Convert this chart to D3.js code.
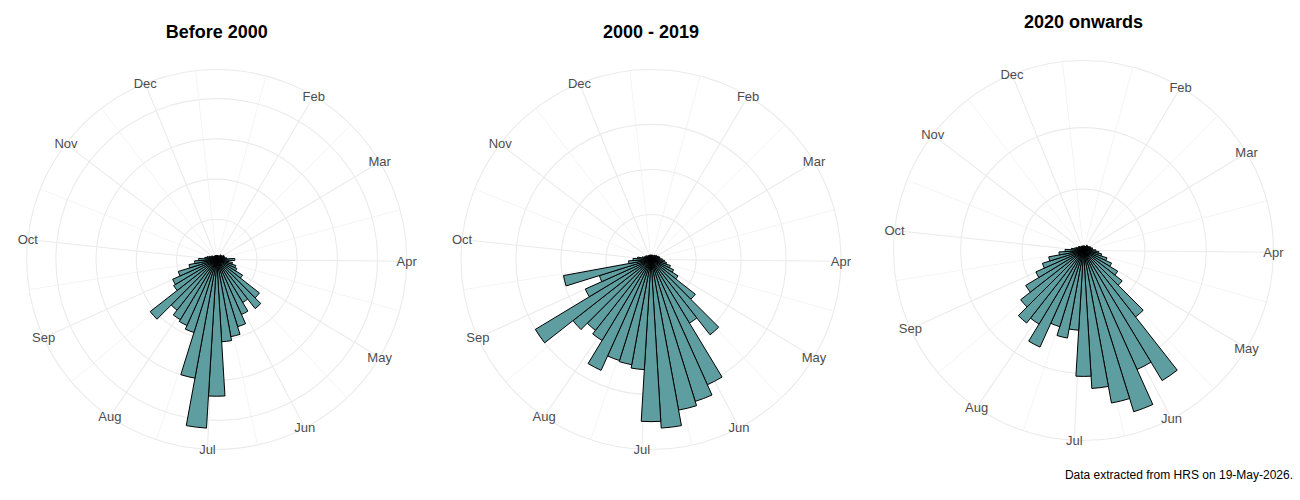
<!DOCTYPE html>
<html>
<head>
<meta charset="utf-8">
<script src="https://cdn.jsdelivr.net/npm/d3@7"></script>
<style>
  body { margin: 0; background: #fff; }
  text { font-family: "Liberation Sans", Arial, sans-serif; }
</style>
</head>
<body>
<svg id="chart" width="1300" height="500"></svg>
<script>
// week of year (52 weekly bins)
const weeks = d3.range(1, 53);

// counts per week
const before2000 = [1, 1, 1, 1, 1, 1, 1.5, 1.5, 1.5, 2, 2, 2, 2.5,
    4.5, 3, 4, 5, 5.5, 7.5, 13.5, 15.5, 12.5, 15, 17.5, 19.5, 20.5,
    34, 42, 30, 19, 18, 17.5, 16, 21, 12.5, 12, 10, 7, 5.5, 4.5, 3, 2.5,
    2, 1.5, 1.5, 1, 1, 1, 1, 1, 1, 1];
const from2000to2019 = [2, 2, 2, 2, 2, 2, 2.5, 2.5, 3, 3, 3.5, 4, 4,
    5, 6, 7, 9, 11, 14, 25, 42.5, 33, 61, 66, 68, 75,
    72, 49, 47.5, 47, 54, 42, 40, 44, 60, 32, 24, 39.5, 10, 8, 6, 4,
    3, 3, 2.5, 2.5, 2, 2, 2, 2, 2, 2];
const from2020 = [1.5, 1.5, 1.5, 1.5, 1.5, 2, 2, 2, 2, 2.5, 2.5, 3, 3,
    4, 5, 6, 8, 10, 13, 16, 27.5, 49.5, 42.5, 55, 50.5, 45,
    41, 26, 29, 26, 34.5, 28, 30, 26, 22, 17, 14, 11.5, 8, 6, 4, 3,
    2.5, 2, 2, 2, 1.5, 1.5, 1.5, 1.5, 1.5, 1.5];

// radial gridline values for each panel
const ringsBefore2000 = [10, 20, 30, 40];
const rings2000to2019 = [20, 40, 60];
const rings2020 = [20, 40];

// month axis: labels and the day of year each month starts
const monthLabels = ["Jan", "Feb", "Mar", "Apr", "May", "Jun", "Jul", "Aug", "Sep", "Oct", "Nov", "Dec"];
const monthStartDays = [1, 32, 60, 91, 121, 152, 182, 213, 244, 274, 305, 335];

const titles = ["Before 2000", "2000 - 2019", "2020 onwards"];
const caption = "Data extracted from HRS on 19-May-2026.";

// layout
const panels = [
    { title: titles[0], values: before2000, rings: ringsBefore2000, cx: 216.7, cy: 259.5, titleY: 38 },
    { title: titles[1], values: from2000to2019, rings: rings2000to2019, cx: 651, cy: 259.5, titleY: 38 },
    { title: titles[2], values: from2020, rings: rings2020, cx: 1083.5, cy: 250.5, titleY: 28 }
];

const svg = d3.select("#chart");
const outerR = 190;
const dataR = outerR * 0.4 / 0.45;

// theta: weeks run clockwise from the top
const theta = d3.scaleLinear().domain([1, 53]).range([0, 2 * Math.PI]);
// same circle on a day-of-year scale, for month breaks
const dayTheta = d3.scaleLinear().domain([1.69, 356.8]).range([0, 2 * Math.PI]);

const inDomain = d => d >= dayTheta.domain()[0] && d <= dayTheta.domain()[1];
const majorDays = monthStartDays.filter(inDomain);
const allStarts = monthStartDays.concat([366]);
const minorDays = d3.pairs(allStarts, (a, b) => (a + b) / 2).filter(inDomain);
const months = monthStartDays.map((d, i) => ({ day: d, label: monthLabels[i] })).filter(m => inDomain(m.day));

const px = (a, r) => r * Math.sin(a);
const py = (a, r) => -r * Math.cos(a);

panels.forEach(p => {
    const g = svg.append("g")
        .attr("transform", `translate(${p.cx},${p.cy})`);

    const r = d3.scaleLinear()
        .domain([0, d3.max(p.values)])
        .range([0, dataR]);

    // minor theta grid
    g.selectAll(".minor")
        .data(minorDays)
        .enter()
        .append("line")
        .attr("x1", 0).attr("y1", 0)
        .attr("x2", d => px(dayTheta(d), outerR))
        .attr("y2", d => py(dayTheta(d), outerR))
        .attr("stroke", "#EBEBEB")
        .attr("stroke-width", 0.55);

    // major theta grid
    g.selectAll(".major")
        .data(majorDays)
        .enter()
        .append("line")
        .attr("x1", 0).attr("y1", 0)
        .attr("x2", d => px(dayTheta(d), outerR))
        .attr("y2", d => py(dayTheta(d), outerR))
        .attr("stroke", "#EBEBEB")
        .attr("stroke-width", 1.1);

    // radial grid circles + outer circle
    g.selectAll(".ring")
        .data(p.rings.map(v => r(v)).concat([outerR]))
        .enter()
        .append("circle")
        .attr("r", d => d)
        .attr("fill", "none")
        .attr("stroke", "#EBEBEB")
        .attr("stroke-width", 1.1);

    // bars
    const arc = d3.arc()
        .innerRadius(0)
        .outerRadius(d => r(d.value))
        .startAngle(d => theta(d.week - 0.5))
        .endAngle(d => theta(d.week + 0.5));

    g.selectAll(".bar")
        .data(weeks.map((w, i) => ({ week: w, value: p.values[i] })))
        .enter()
        .append("path")
        .attr("d", arc)
        .attr("fill", "cadetblue")
        .attr("stroke", "black")
        .attr("stroke-width", 1)
        .attr("stroke-linejoin", "miter");

    // month labels
    g.selectAll(".month")
        .data(months)
        .enter()
        .append("text")
        .attr("x", d => px(dayTheta(d.day), outerR))
        .attr("y", d => py(dayTheta(d.day), outerR))
        .attr("text-anchor", "middle")
        .attr("dominant-baseline", "central")
        .attr("font-size", "13px")
        .attr("fill", "#4D4D4D")
        .text(d => d.label);

    svg.append("text")
        .attr("x", p.cx)
        .attr("y", p.titleY)
        .attr("text-anchor", "middle")
        .attr("font-size", "18px")
        .attr("font-weight", "bold")
        .attr("fill", "black")
        .text(p.title);
});

svg.append("text")
    .attr("x", 1293)
    .attr("y", 479)
    .attr("text-anchor", "end")
    .attr("font-size", "12px")
    .attr("fill", "black")
    .text(caption);
</script>
</body>
</html>
